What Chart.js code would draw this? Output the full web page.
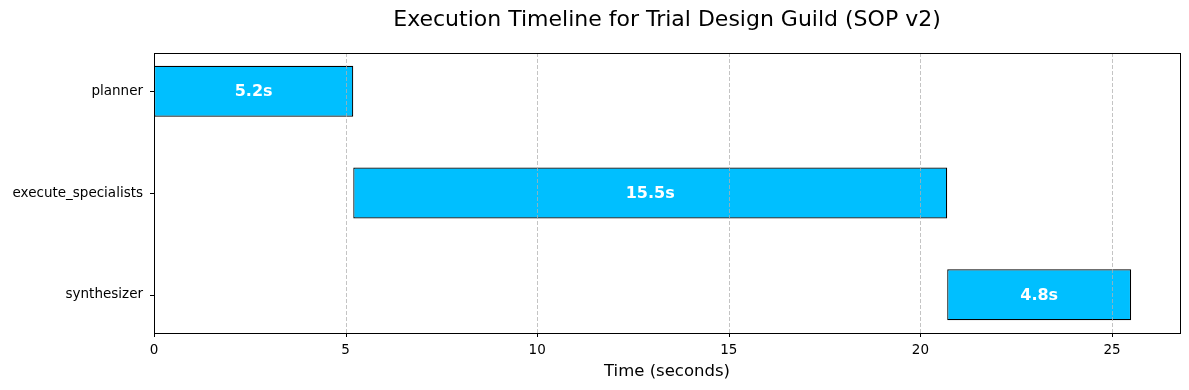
<!DOCTYPE html>
<html>
<head>
<meta charset="utf-8">
<script src="https://cdn.jsdelivr.net/npm/chart.js@4/dist/chart.umd.min.js"></script>
<style>
  html, body { margin: 0; padding: 0; background: #fff; }
  #wrap { width: 1189px; height: 390px; }
</style>
</head>
<body>
<div id="wrap"><canvas id="chart"></canvas></div>
<script>
// Timeline data
const stages = ['planner', 'execute_specialists', 'synthesizer'];
const starts = [0, 5.2, 20.7];
const durations = [5.2, 15.5, 4.8];
const xTicks = [0, 5, 10, 15, 20, 25];
const chartTitle = 'Execution Timeline for Trial Design Guild (SOP v2)';

const FONT = "'DejaVu Sans', sans-serif";
const BAR = '#00bfff';

// grid, ticks, frame, title and labels drawn above bars, like the matplotlib original
const overlayPlugin = {
  id: 'overlay',
  afterDatasetsDraw(chart) {
    const { ctx, chartArea: a, scales: { x, y } } = chart;
    ctx.save();
    ctx.lineWidth = 1;
    xTicks.forEach(v => {
      const px = Math.round(x.getPixelForValue(v)) + 0.5;
      if (v !== 0) {
        ctx.strokeStyle = 'rgba(176,176,176,0.75)';
        ctx.setLineDash([4, 2]);
        ctx.beginPath();
        ctx.moveTo(px, a.top);
        ctx.lineTo(px, a.bottom);
        ctx.stroke();
      }
      ctx.setLineDash([]);
      ctx.strokeStyle = '#000';
      ctx.beginPath();
      ctx.moveTo(px, a.bottom);
      ctx.lineTo(px, a.bottom + 4);
      ctx.stroke();
    });
    ctx.setLineDash([]);
    ctx.strokeStyle = '#000';
    stages.forEach((s, i) => {
      const py = Math.round(y.getPixelForValue(i)) + 0.5;
      ctx.beginPath();
      ctx.moveTo(a.left - 4, py);
      ctx.lineTo(a.left, py);
      ctx.stroke();
    });
    ctx.strokeRect(Math.round(a.left) + 0.5, Math.round(a.top) + 0.5,
      Math.round(a.right - a.left), Math.round(a.bottom - a.top));

    // duration labels
    ctx.fillStyle = '#fff';
    ctx.font = `bold 16px ${FONT}`;
    ctx.textAlign = 'center';
    ctx.textBaseline = 'middle';
    chart.getDatasetMeta(0).data.forEach((bar, i) => {
      const { x: bx, base, y: by } = bar.getProps(['x', 'base', 'y'], true);
      ctx.fillText(durations[i].toFixed(1) + 's', (bx + base) / 2, by + 1);
    });

    // title centred over the plot area
    ctx.fillStyle = '#000';
    ctx.font = `22px ${FONT}`;
    ctx.fillText(chartTitle, (a.left + a.right) / 2, 20);
    ctx.restore();
  }
};

new Chart(document.getElementById('chart'), {
  type: 'bar',
  data: {
    datasets: [{
      data: stages.map((s, i) => ({ y: i, x: [starts[i], starts[i] + durations[i]] })),
      backgroundColor: BAR,
      borderColor: '#000',
      borderWidth: 1.2,
      borderSkipped: false,
      barPercentage: 0.5,
      categoryPercentage: 1,
    }],
  },
  options: {
    indexAxis: 'y',
    responsive: true,
    maintainAspectRatio: false,
    animation: false,
    layout: { padding: { left: 0, right: 9, top: 53, bottom: 0 } },
    scales: {
      x: {
        type: 'linear',
        min: 0,
        max: 26.775,
        offset: false,
        afterBuildTicks: scale => { scale.ticks = xTicks.map(v => ({ value: v })); },
        afterFit: scale => { scale.height = 57; },
        grid: { display: false },
        border: { display: false },
        ticks: { color: '#000', font: { family: FONT, size: 13.5 }, padding: 1, maxRotation: 0 },
        title: { display: true, text: 'Time (seconds)', color: '#000', font: { family: FONT, size: 16.5 }, padding: { top: 2, bottom: 8 } },
      },
      y: {
        type: 'linear',
        reverse: true,
        min: -0.375,
        max: 2.375,
        offset: false,
        afterBuildTicks: scale => { scale.ticks = stages.map((s, i) => ({ value: i })); },
        afterFit: scale => { scale.width = 154; },
        grid: { display: false },
        border: { display: false },
        ticks: { color: '#000', font: { family: FONT, size: 13.5 }, padding: 3, callback: v => stages[v] },
      },
    },
    plugins: {
      legend: { display: false },
      tooltip: { enabled: false },
      title: { display: false },
    },
  },
  plugins: [overlayPlugin],
});
</script>
</body>
</html>
